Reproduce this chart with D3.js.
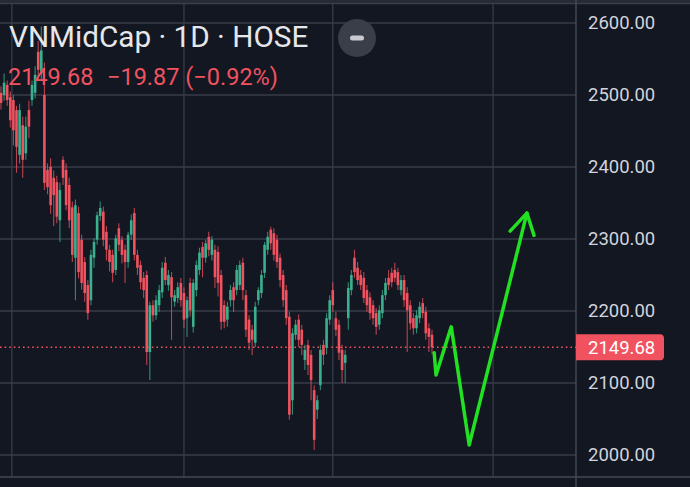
<!DOCTYPE html>
<html>
<head>
<meta charset="utf-8">
<script src="https://cdn.jsdelivr.net/npm/d3@7"></script>
<style>
  html, body { margin: 0; padding: 0; background: #131722; }
  svg { display: block; }
</style>
</head>
<body>
<svg width="690" height="487"></svg>
<script>
// daily candles, oldest first
const open = [2503,2500,2514,2497,2493,2479,2417,2458,2419,2479,2493,2503,2560,2530,2500,2396,2400,2385,2379,2326,
  2410,2396,2375,2344,2274,2336,2299,2268,2236,2215,2274,2299,2332,2338,2310,2285,2278,2257,2315,2299,
  2285,2268,2306,2336,2278,2264,2246,2250,2143,2208,2194,2208,2226,2267,2236,2247,2213,2218,2239,2225,
  2190,2239,2178,2229,2257,2289,2274,2303,2278,2285,2282,2250,2208,2188,2215,2233,2229,2236,2267,2222,
  2188,2174,2156,2215,2225,2253,2285,2313,2308,2299,2274,2250,2229,2192,2076,2167,2188,2174,2132,2153,
  2139,2090,2063,2097,2153,2149,2188,2229,2190,2181,2146,2128,2190,2229,2274,2260,2250,2246,2229,2219,
  2208,2197,2181,2197,2222,2246,2253,2257,2254,2229,2243,2225,2208,2190,2176,2190,2211,2199,2176,2167];
const high = [2512,2530,2520,2505,2500,2485,2488,2470,2470,2492,2520,2540,2575,2595,2545,2405,2412,2395,2388,2378,
  2415,2405,2385,2352,2355,2345,2306,2275,2243,2285,2301,2338,2352,2345,2318,2292,2285,2306,2322,2304,
  2292,2310,2334,2343,2285,2270,2254,2256,2213,2215,2222,2236,2268,2275,2257,2254,2229,2240,2246,2233,
  2220,2246,2244,2270,2288,2296,2299,2310,2304,2292,2290,2257,2215,2213,2236,2240,2264,2270,2274,2229,
  2194,2181,2213,2233,2257,2296,2310,2317,2315,2306,2280,2257,2236,2199,2176,2188,2195,2181,2153,2160,
  2146,2097,2083,2153,2160,2197,2222,2240,2199,2188,2153,2146,2240,2257,2285,2268,2257,2254,2236,2226,
  2215,2204,2208,2229,2246,2257,2260,2267,2260,2250,2250,2233,2215,2197,2201,2213,2218,2206,2183,2174];
const low = [2480,2492,2485,2455,2430,2392,2405,2385,2410,2440,2485,2495,2522,2520,2368,2362,2335,2318,2322,2296,
  2375,2340,2315,2268,2215,2245,2230,2213,2188,2208,2260,2292,2325,2290,2270,2255,2240,2250,2283,2266,
  2239,2260,2299,2270,2250,2230,2218,2125,2104,2185,2188,2199,2218,2236,2228,2160,2206,2211,2206,2176,
  2164,2192,2170,2220,2250,2247,2267,2276,2270,2232,2220,2174,2176,2178,2206,2199,2222,2229,2215,2164,
  2146,2139,2150,2208,2218,2246,2278,2285,2270,2260,2233,2206,2181,2049,2056,2160,2150,2139,2118,2111,
  2076,2007,2050,2090,2125,2140,2181,2199,2165,2132,2100,2100,2174,2222,2246,2236,2229,2211,2199,2188,
  2181,2167,2174,2190,2215,2229,2233,2240,2229,2222,2206,2143,2174,2167,2169,2183,2190,2160,2143,2140];
const close = [2489,2517,2493,2465,2451,2428,2479,2410,2456,2456,2514,2528,2535,2562,2378,2372,2347,2361,2331,2368,
  2385,2347,2326,2278,2347,2254,2239,2225,2197,2278,2296,2333,2343,2299,2285,2268,2253,2301,2292,2278,
  2268,2306,2326,2278,2260,2240,2229,2143,2208,2194,2215,2229,2260,2243,2250,2219,2222,2233,2215,2188,
  2215,2201,2239,2264,2281,2274,2294,2285,2299,2247,2239,2185,2185,2206,2229,2215,2257,2264,2229,2174,
  2156,2160,2206,2229,2250,2292,2303,2294,2278,2268,2243,2215,2190,2056,2169,2181,2160,2153,2146,2125,
  2104,2021,2076,2146,2139,2190,2215,2208,2174,2142,2118,2139,2232,2250,2254,2243,2236,2218,2208,2197,
  2190,2178,2201,2222,2239,2236,2240,2246,2236,2243,2215,2201,2183,2176,2194,2206,2197,2169,2164,2149.68];

// y axis ticks and time grid positions (candle index)
const priceTicks = [2000, 2100, 2200, 2300, 2400, 2500, 2600];
const timeGrid = [3.5, 59, 107, 158.7];

const lastPrice = 2149.68;
const change = "\u221219.87 (\u22120.92%)";

// hand-drawn annotation: [candle index, price]
const arrowPath = [[139.7, 2142], [140.3, 2111], [145.2, 2178], [151, 2014], [169.6, 2336]];
const arrowHead = [[164.2, 2311], [169.6, 2336], [171.9, 2305]];

const width = 690, height = 487;
const axisX = 576, bottomY = 477;
const red = "#f0525f", green = "#3bb08e";

const svg = d3.select("svg");
svg.append("rect").attr("width", width).attr("height", height).attr("fill", "#131722");

const days = d3.range(close.length);
const x = d3.scaleLinear().domain([0, close.length - 1]).range([1, 432]);
const y = d3.scaleLinear().domain([2000, 2600]).range([455, 23]);

// grid
svg.append("g")
  .selectAll("line")
  .data(priceTicks)
  .join("line")
  .attr("x1", 0).attr("x2", axisX)
  .attr("y1", d => y(d)).attr("y2", d => y(d))
  .attr("stroke", "#383c48").attr("stroke-width", 1.3);

svg.append("g")
  .selectAll("line")
  .data(timeGrid)
  .join("line")
  .attr("x1", d => x(d)).attr("x2", d => x(d))
  .attr("y1", 4).attr("y2", bottomY)
  .attr("stroke", "#383c48").attr("stroke-width", 1.3);

// frame
svg.append("rect").attr("x", 0).attr("y", 0).attr("width", width).attr("height", 3)
  .attr("fill", "#262a35");
svg.append("line").attr("x1", 0).attr("x2", width).attr("y1", 3.5).attr("y2", 3.5)
  .attr("stroke", "#3a3e4a").attr("stroke-width", 1.5);
svg.append("line").attr("x1", 0).attr("x2", width).attr("y1", bottomY).attr("y2", bottomY)
  .attr("stroke", "#454955").attr("stroke-width", 1.5);
svg.append("line").attr("x1", axisX).attr("x2", axisX).attr("y1", 0).attr("y2", height)
  .attr("stroke", "#454955").attr("stroke-width", 1.5);

// last price dotted line
svg.append("line")
  .attr("x1", 0).attr("x2", axisX)
  .attr("y1", y(lastPrice)).attr("y2", y(lastPrice))
  .attr("stroke", red).attr("stroke-width", 1.6)
  .attr("stroke-dasharray", "1.6,3");

// candles
const candles = svg.append("g")
  .selectAll("g")
  .data(days)
  .join("g")
  .attr("fill", i => close[i] >= open[i] ? green : red)
  .attr("stroke", i => close[i] >= open[i] ? green : red);

candles.append("line")
  .attr("x1", i => x(i)).attr("x2", i => x(i))
  .attr("y1", i => y(high[i])).attr("y2", i => y(low[i]))
  .attr("stroke-width", 1.1).attr("stroke-opacity", 0.75);

candles.append("rect")
  .attr("x", i => x(i) - 1.3)
  .attr("width", 2.6)
  .attr("y", i => y(Math.max(open[i], close[i])))
  .attr("height", i => Math.max(1, Math.abs(y(open[i]) - y(close[i]))))
  .attr("stroke", "none");

// annotation arrow
const line = d3.line().x(d => x(d[0])).y(d => y(d[1]));
svg.append("path")
  .attr("d", line(arrowPath))
  .attr("fill", "none").attr("stroke", "#22e022")
  .attr("stroke-width", 3.5).attr("stroke-linecap", "round").attr("stroke-linejoin", "round");
svg.append("path")
  .attr("d", line(arrowHead))
  .attr("fill", "none").attr("stroke", "#22e022")
  .attr("stroke-width", 3.5).attr("stroke-linecap", "round").attr("stroke-linejoin", "round");

// right price axis
const axis = svg.append("g")
  .attr("transform", `translate(${axisX},0)`)
  .call(d3.axisRight(y).tickValues(priceTicks).tickFormat(d3.format(".2f")).tickSize(0).tickPadding(12));
axis.select(".domain").remove();
axis.selectAll("text")
  .attr("fill", "#d1d4dc")
  .attr("font-family", "Roboto, sans-serif")
  .attr("font-size", 18.5);

// last price label
svg.append("path")
  .attr("d", `M${axisX},${y(lastPrice) - 13}h84a4,4 0 0 1 4,4v18a4,4 0 0 1 -4,4h-84z`)
  .attr("fill", red);
svg.append("text")
  .attr("x", 588).attr("y", y(lastPrice))
  .attr("dy", "0.36em")
  .attr("fill", "#ffffff")
  .attr("font-family", "Roboto, sans-serif")
  .attr("font-size", 18.5)
  .text(d3.format(".2f")(lastPrice));

// header
svg.append("text")
  .attr("x", 9).attr("y", 47)
  .attr("fill", "#e6e7ea")
  .attr("font-family", "Roboto, sans-serif")
  .attr("font-size", 29.7)
  .text("VNMidCap \u00b7 1D \u00b7 HOSE");

svg.append("text")
  .attr("x", 8).attr("y", 85)
  .attr("fill", red)
  .attr("font-family", "Roboto, sans-serif")
  .attr("font-size", 23.5)
  .text(d3.format(".2f")(lastPrice));
svg.append("text")
  .attr("x", 107).attr("y", 85)
  .attr("fill", red)
  .attr("font-family", "Roboto, sans-serif")
  .attr("font-size", 23.5)
  .text(change);

// collapse button
svg.append("circle").attr("cx", 357).attr("cy", 38).attr("r", 19).attr("fill", "#3a3e49");
svg.append("rect").attr("x", 350).attr("y", 35.5).attr("width", 14).attr("height", 5).attr("rx", 2.5)
  .attr("fill", "#c8cad0");
</script>
</body>
</html>
